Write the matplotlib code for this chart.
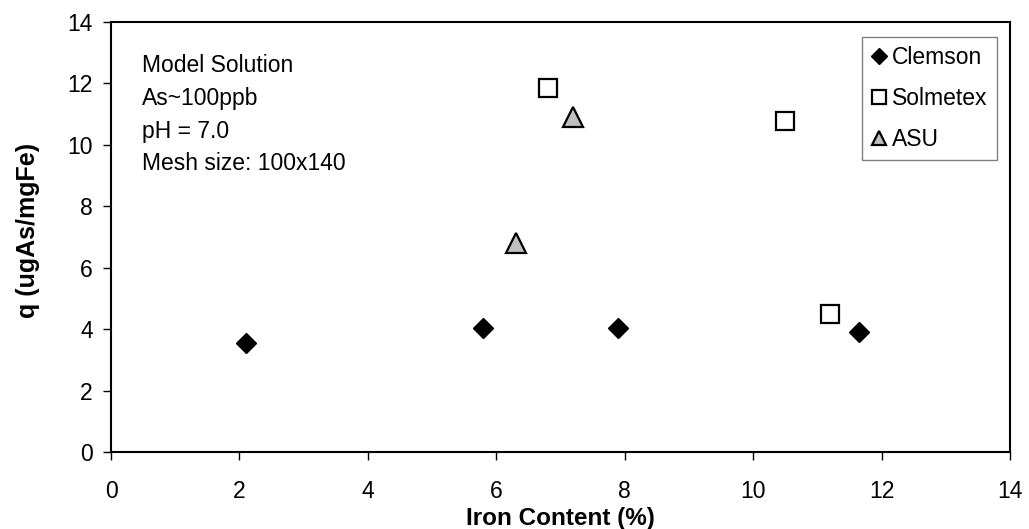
import matplotlib
matplotlib.use("Agg")
import matplotlib.pyplot as plt

# data
clemson_x = [2.1, 5.8, 7.9, 11.65]
clemson_y = [3.55, 4.05, 4.05, 3.92]
solmetex_x = [6.8, 10.5, 11.2]
solmetex_y = [11.85, 10.78, 4.48]
asu_x = [6.3, 7.2]
asu_y = [6.82, 10.92]

plt.rcParams['font.family'] = ['Liberation Sans', 'DejaVu Sans']

fig = plt.figure(figsize=(10.29, 5.29), dpi=100)
ax = fig.add_axes([0.1079, 0.1456, 0.8736, 0.8128])

ax.plot(clemson_x, clemson_y, linestyle='none', marker='D', markersize=10.5,
        color='black', markeredgecolor='black', label='Clemson')
ax.plot(solmetex_x, solmetex_y, linestyle='none', marker='s', markersize=13,
        markerfacecolor='white', markeredgecolor='black', markeredgewidth=1.6,
        label='Solmetex')
ax.plot(asu_x, asu_y, linestyle='none', marker='^', markersize=14,
        markerfacecolor='#c0c0c0', markeredgecolor='black', markeredgewidth=1.6,
        label='ASU')

ax.set_xlim(0, 14)
ax.set_ylim(0, 14)
ax.set_xticks(range(0, 15, 2))
ax.set_yticks(range(0, 15, 2))

for s in ax.spines.values():
    s.set_linewidth(1.5)
ax.tick_params(axis='both', direction='out', length=6, width=1.0, labelsize=16.5)
ax.tick_params(axis='x', pad=14)
ax.tick_params(axis='y', pad=7)
ax.tick_params(top=False, right=False)

ax.set_xlabel('Iron Content (%)', fontsize=17.5, fontweight='bold', labelpad=3)
ax.set_ylabel('q (ugAs/mgFe)', fontsize=18, fontweight='bold')
ax.yaxis.set_label_coords(-0.079, 0.516)

ax.text(0.034, 0.925, 'Model Solution\nAs~100ppb\npH = 7.0\nMesh size: 100x140',
        transform=ax.transAxes, fontsize=16.5, va='top', ha='left', linespacing=1.54)

lgd = ax.legend(loc='upper right', bbox_to_anchor=(0.9855, 0.965), fontsize=16.5,
                markerscale=0.75, handlelength=0.6, handletextpad=0.3,
                labelspacing=0.78, borderpad=0.4, fancybox=False,
                framealpha=1, edgecolor='#808080', borderaxespad=0)
lgd.get_frame().set_linewidth(1.0)

fig.savefig('out.png', dpi=100)
